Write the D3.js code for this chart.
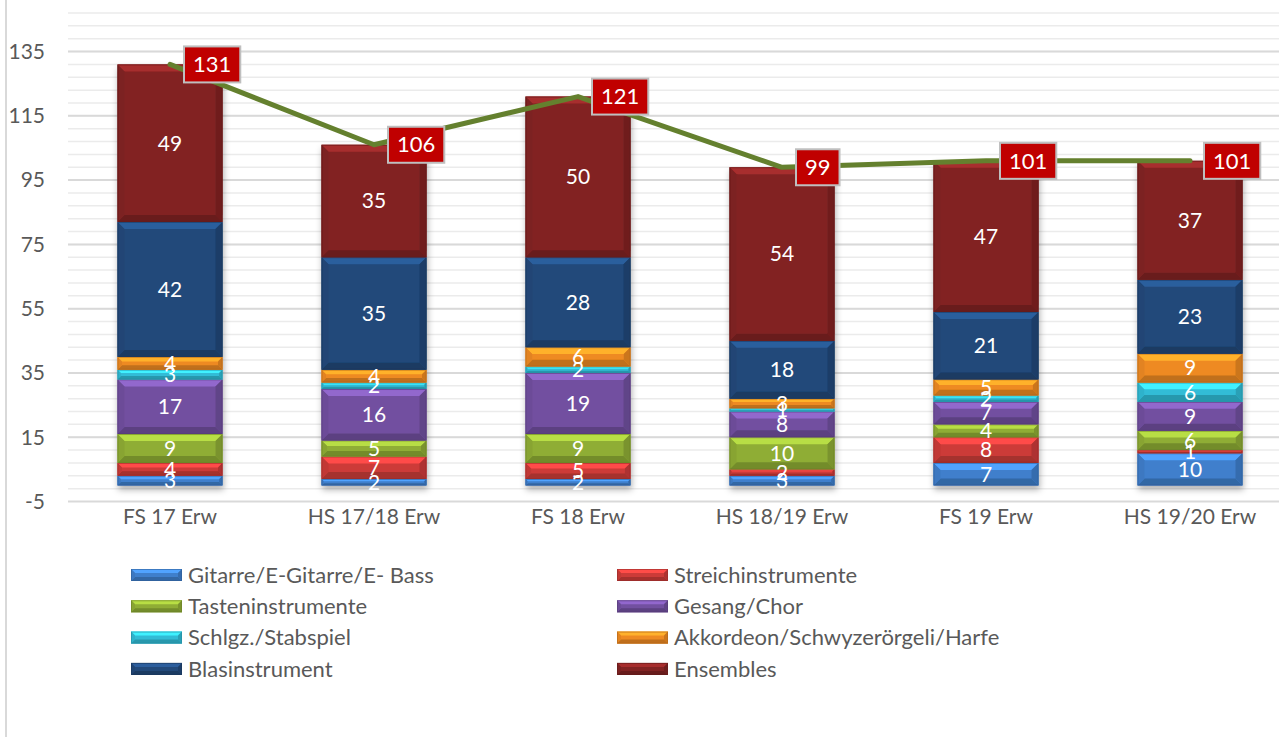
<!DOCTYPE html>
<html><head><meta charset="utf-8">
<script src="https://cdn.jsdelivr.net/npm/d3@7"></script>
<style>body{margin:0;background:#fff}svg{display:block;font-family:Lato,"Open Sans",sans-serif}</style>
</head><body><svg id="c" width="1279" height="737"></svg>
<script>
const categories = ["FS 17 Erw","HS 17/18 Erw","FS 18 Erw","HS 18/19 Erw","FS 19 Erw","HS 19/20 Erw"];
const seriesNames = ["Gitarre/E-Gitarre/E- Bass","Streichinstrumente","Tasteninstrumente","Gesang/Chor","Schlgz./Stabspiel","Akkordeon/Schwyzerörgeli/Harfe","Blasinstrument","Ensembles"];
const gitarre   = [3, 2, 2, 3, 7, 10];
const streich   = [4, 7, 5, 2, 8, 1];
const tasten    = [9, 5, 9, 10, 4, 6];
const gesang    = [17, 16, 19, 8, 7, 9];
const schlgz    = [3, 2, 2, 1, 2, 6];
const akkordeon = [4, 4, 6, 3, 5, 9];
const blas      = [42, 35, 28, 18, 21, 23];
const ensembles = [49, 35, 50, 54, 47, 37];
const totals    = [131, 106, 121, 99, 101, 101];
const yTicks    = [-5, 15, 35, 55, 75, 95, 115, 135];
const colors = ["#3f7fcc","#cc3b38","#8fad35","#7250a0","#31bcd6","#ee8a22","#22497a","#822323"];

const seriesVals = [gitarre, streich, tasten, gesang, schlgz, akkordeon, blas, ensembles];
const svg = d3.select("#c");
const textCol = "#595959";

const x = d3.scaleBand().domain(categories).range([68, 1292]).paddingInner(0.485).paddingOuter(0.2425);
const y = d3.scaleLinear().domain([-5, 147]).range([501.5, 13]);

// border
svg.append("line").attr("x1",6).attr("x2",6).attr("y1",0).attr("y2",737).attr("stroke","#d9d9d9").attr("stroke-width",2);

// gridlines
const minor = d3.range(-1, 148, 4);
svg.append("g").selectAll("line").data(minor).join("line")
  .attr("x1",68).attr("x2",1279).attr("y1",d=>y(d)).attr("y2",d=>y(d))
  .attr("stroke","#ebebeb").attr("stroke-width",1.5);
svg.append("g").selectAll("line").data(yTicks).join("line")
  .attr("x1",68).attr("x2",1279).attr("y1",d=>y(d)).attr("y2",d=>y(d))
  .attr("stroke","#d9d9d9").attr("stroke-width",2);

// y axis labels
svg.append("g").selectAll("text").data(yTicks).join("text")
  .attr("x",45).attr("y",d=>y(d)).attr("dy","0.35em").attr("text-anchor","end")
  .attr("font-size",21).attr("fill",textCol).text(d=>d);

// x axis labels
svg.append("g").selectAll("text").data(categories).join("text")
  .attr("x",d=>x(d)+x.bandwidth()/2).attr("y",517).attr("dy","0.35em").attr("text-anchor","middle")
  .attr("font-size",21).attr("fill",textCol).text(d=>d);

// shadow filter
const defs = svg.append("defs");
const f = defs.append("filter").attr("id","sh").attr("x","-10%").attr("y","-10%").attr("width","130%").attr("height","130%");
f.append("feDropShadow").attr("dx",1).attr("dy",4).attr("stdDeviation",3).attr("flood-color","#000").attr("flood-opacity",0.3);

function bevel(g, x0, y0, w, h, col, maxB){
  const c = d3.color(col);
  const b = Math.max(0, Math.min(maxB, h*0.35, w*0.3));
  g.append("rect").attr("x",x0).attr("y",y0).attr("width",w).attr("height",h).attr("fill",c.formatHex());
  const pts = (a)=>a.map(p=>p.join(",")).join(" ");
  g.append("polygon").attr("points",pts([[x0,y0],[x0+w,y0],[x0+w-b,y0+b],[x0+b,y0+b]])).attr("fill",c.brighter(0.7).formatHex());
  g.append("polygon").attr("points",pts([[x0,y0+h],[x0+w,y0+h],[x0+w-b,y0+h-b],[x0+b,y0+h-b]])).attr("fill",c.darker(0.6).formatHex());
  g.append("polygon").attr("points",pts([[x0,y0],[x0+b,y0+b],[x0+b,y0+h-b],[x0,y0+h]])).attr("fill",c.darker(0.15).formatHex());
  g.append("polygon").attr("points",pts([[x0+w,y0],[x0+w-b,y0+b],[x0+w-b,y0+h-b],[x0+w,y0+h]])).attr("fill",c.darker(0.45).formatHex());
  g.append("rect").attr("x",x0+0.5).attr("y",y0+0.5).attr("width",w-1).attr("height",Math.max(0,h-1)).attr("fill","none").attr("stroke",c.darker(0.8).formatHex()).attr("stroke-width",1).attr("stroke-opacity",0.6);
}

// stacked bars
const table = categories.map((c,i)=>{ const o={cat:c}; seriesNames.forEach((s,j)=>o[s]=seriesVals[j][i]); return o; });
const stack = d3.stack().keys(seriesNames)(table);
const barsG = svg.append("g").attr("filter","url(#sh)");
stack.forEach((layer,j)=>{
  layer.forEach(d=>{
    const x0 = x(d.data.cat), w = x.bandwidth();
    const yt = y(d[1]), yb = y(d[0]);
    bevel(barsG, x0, yt, w, yb-yt, colors[j], 7);
  });
});
// data labels
const lblG = svg.append("g");
stack.forEach((layer,j)=>{
  layer.forEach(d=>{
    lblG.append("text").attr("x",x(d.data.cat)+x.bandwidth()/2).attr("y",(y(d[0])+y(d[1]))/2)
      .attr("dy","0.35em").attr("text-anchor","middle").attr("font-size",21).attr("fill","#fff")
      .text(d[1]-d[0]);
  });
});

// total line
const line = d3.line().x((d,i)=>x(categories[i])+x.bandwidth()/2).y(d=>y(d));
svg.append("path").attr("d",line(totals)).attr("fill","none").attr("stroke","#64802e")
  .attr("stroke-width",5).attr("stroke-linejoin","round").attr("stroke-linecap","round");

// total labels
const tg = svg.append("g");
totals.forEach((t,i)=>{
  const cx = x(categories[i])+x.bandwidth()/2 + 14, cy = y(t);
  const g = tg.append("g");
  const r = g.append("rect");
  const tx = g.append("text").attr("font-size",22).attr("fill","#fff").attr("dy","0.35em").text(t);
  const tw = tx.node().getComputedTextLength();
  const bw = tw + 18, bh = 36;
  r.attr("x",cx).attr("y",cy-bh/2).attr("width",bw).attr("height",bh).attr("fill","#c00000").attr("stroke","#bfbfbf").attr("stroke-width",2);
  tx.attr("x",cx+9).attr("y",cy);
});

// legend
const lg = svg.append("g");
seriesNames.forEach((s,i)=>{
  const col = i%2, row = Math.floor(i/2);
  const lx = col===0 ? 131 : 617, ly = 575 + row*31.3;
  bevel(lg, lx, ly-6, 51, 12, colors[i], 4);
  lg.append("text").attr("x",lx+57).attr("y",ly).attr("dy","0.35em").attr("font-size",22).attr("fill",textCol).text(s);
});
</script></body></html>
